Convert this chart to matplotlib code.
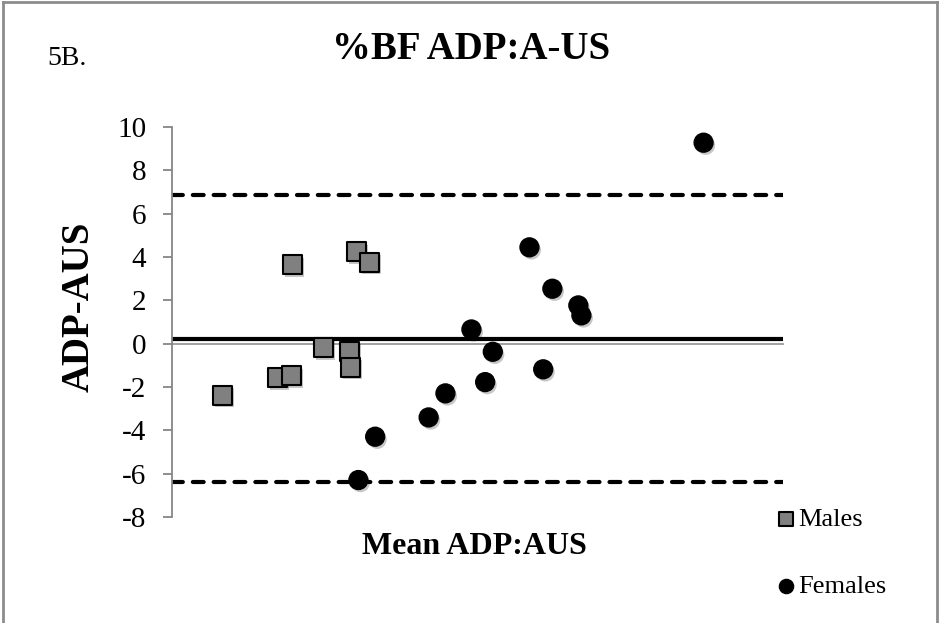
import matplotlib.pyplot as plt
import matplotlib.patheffects as pe
from matplotlib.lines import Line2D

# Bland-Altman plot: %BF by ADP vs A-US, split by sex

male_mean = [8.3, 11.9, 12.8, 12.9, 14.9, 16.6, 16.7, 17.1, 17.9]
male_diff = [-2.37, -1.55, -1.46, 3.65, -0.18, -0.34, -1.08, 4.26, 3.77]

female_mean = [17.2, 18.3, 21.8, 22.9, 24.6, 25.5, 26.0, 28.4, 29.3, 29.9, 31.6, 31.8, 39.8]
female_diff = [-6.29, -4.29, -3.40, -2.29, 0.66, -1.77, -0.37, 4.45, -1.18, 2.54, 1.77, 1.31, 9.28]

bias = 0.23
upper_loa = 6.86
lower_loa = -6.37

yticks = list(range(-8, 11, 2))

plt.rcParams['font.family'] = ['Liberation Serif', 'DejaVu Serif']
plt.rcParams['axes.unicode_minus'] = False

fig = plt.figure(figsize=(9.4, 6.23), dpi=100)
ax = fig.add_axes([0.183, 0.170, 0.650, 0.626])

shadow = [pe.SimplePatchShadow(offset=(1.5, -2), alpha=0.22, shadow_rgbFace='k'), pe.Normal()]

ax.axhline(upper_loa, color='black', lw=3, linestyle=(0, (2.6, 2.4)), dash_capstyle='round', zorder=2)
ax.axhline(lower_loa, color='black', lw=3, linestyle=(0, (2.6, 2.4)), dash_capstyle='round', zorder=2)
ax.axhline(bias, color='black', lw=3, zorder=2)

ms = ax.scatter(male_mean, male_diff, marker='s', s=185, facecolor='#808080',
                edgecolor='black', linewidth=1.5, label='Males', zorder=3)
fs = ax.scatter(female_mean, female_diff, marker='o', s=185, facecolor='black',
                edgecolor='black', linewidth=1, label='Females', zorder=3)
ms.set_path_effects(shadow)
fs.set_path_effects(shadow)

ax.set_xlim(5, 45)
ax.set_ylim(-8, 10)
ax.set_yticks(yticks)
ax.set_xticks([])

for s in ['top', 'right']:
    ax.spines[s].set_visible(False)
ax.spines['left'].set_color('#868686')
ax.spines['left'].set_linewidth(1.3)
ax.spines['bottom'].set_position(('data', 0))
ax.spines['bottom'].set_color('#9a9a9a')
ax.spines['bottom'].set_linewidth(1.3)
ax.spines['bottom'].set_zorder(1)
ax.tick_params(axis='y', direction='out', length=6.5, width=1.3, color='#868686',
               labelsize=21, pad=12)

ax.set_ylabel('ADP-AUS', fontsize=28, fontweight='bold')
ax.yaxis.set_label_coords(-0.121, 0.54)

fig.text(0.505, 0.122, 'Mean ADP:AUS', fontsize=23, fontweight='bold', ha='center', va='center')
fig.text(0.501, 0.920, '%BF ADP:A-US', fontsize=28, fontweight='bold', ha='center', va='center')
fig.text(0.050, 0.906, '5B.', fontsize=20, ha='left', va='center')

leg = fig.legend(handles=[ms, fs], loc='upper left', bbox_to_anchor=(0.8026, 0.224),
                 frameon=False, fontsize=19, labelspacing=1.67, handlelength=0.6,
                 handletextpad=0.15, markerscale=0.75)
for h in leg.legend_handles:
    h.set_path_effects([])

# figure frame on three sides
for xs, ys in [([0.003, 0.003], [0, 0.996]), ([0.003, 0.997], [0.996, 0.996]),
               ([0.997, 0.997], [0, 0.996])]:
    fig.add_artist(Line2D(xs, ys, color='#8c8c8c', lw=2, transform=fig.transFigure))

fig.savefig('out.png', dpi=100)
